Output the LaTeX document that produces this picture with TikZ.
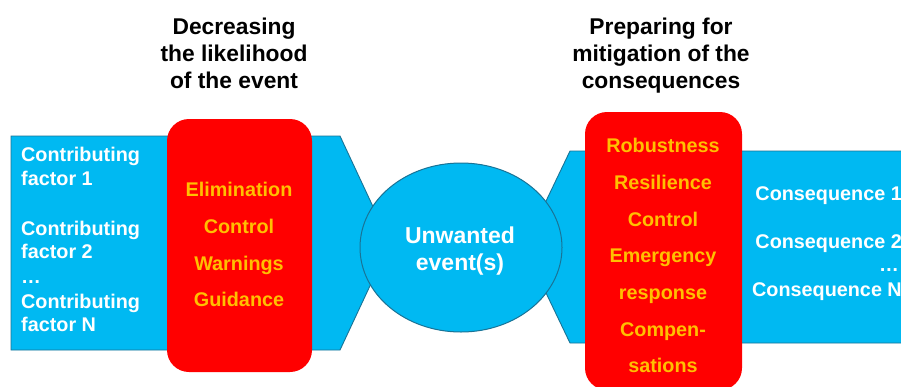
\documentclass[tikz,border=0pt]{standalone}
\usepackage{fontspec}
\setmainfont{Liberation Sans}
\definecolor{bluefill}{RGB}{0,185,242}
\definecolor{blueedge}{RGB}{25,115,150}
\definecolor{barred}{RGB}{255,0,0}
\definecolor{baryellow}{RGB}{255,192,0}
\begin{document}
\begin{tikzpicture}[x=1pt,y=-1pt,
  bluebody/.style={fill=bluefill, draw=blueedge, line width=0.9pt, line join=miter},
  barrier/.style={fill=barred, rounded corners=22pt},
  wtext/.style={text=white, font=\fontsize{19.8}{24}\selectfont\bfseries, inner sep=0pt},
  etext/.style={text=white, font=\fontsize{23}{27}\selectfont\bfseries, anchor=base, inner sep=0pt},
  ytext/.style={text=baryellow, font=\fontsize{19.8}{24}\selectfont\bfseries, anchor=base, inner sep=0pt},
  titletext/.style={text=black, font=\fontsize{22.8}{27}\selectfont\bfseries, anchor=base, inner sep=0pt}]
\useasboundingbox (0,0) rectangle (901,386);
\fill[white] (0,0) rectangle (901,386);
\clip (0,0) rectangle (901,386);

% titles
\node[titletext] (tl1) at (234,34) {Decreasing};
\node[titletext] (tl2) at (234,61.5) {the likelihood};
\node[titletext] (tl3) at (234,88.5) {of the event};
\node[titletext] (tr1) at (661,34) {Preparing for};
\node[titletext] (tr2) at (661,61.5) {mitigation of the};
\node[titletext] (tr3) at (661,88.5) {consequences};

% blue bodies
\path[bluebody] (11,136) -- (340,136) -- (390,243) -- (340,350) -- (11,350) -- cycle;
\path[bluebody] (920,151) -- (570,151) -- (524,247) -- (570,343) -- (920,343) -- cycle;

% unwanted event
\path[fill=bluefill, draw=blueedge, line width=1pt] (461,247.5) ellipse [x radius=101, y radius=84.5];

% barriers
\path[barrier] (167,119) rectangle (312,372);
\path[barrier] (585,112) rectangle (742,390);

% left texts
\node[wtext, anchor=base west] (c1a) at (21,161.7) {Contributing};
\node[wtext, anchor=base west] (c1b) at (21,185) {factor 1};
\node[wtext, anchor=base west] (c2a) at (21,235) {Contributing};
\node[wtext, anchor=base west] (c2b) at (21,258) {factor 2};
\node[wtext, anchor=base west] (cdots) at (21,283) {…};
\node[wtext, anchor=base west] (cNa) at (21,308) {Contributing};
\node[wtext, anchor=base west] (cNb) at (21,331.7) {factor N};

% left barrier texts
\node[ytext] (b1) at (239,196.7) {Elimination};
\node[ytext] (b2) at (239,233.3) {Control};
\node[ytext] (b3) at (239,270) {Warnings};
\node[ytext] (b4) at (239,306.7) {Guidance};

% event text
\node[etext] (e1) at (460,243) {Unwanted};
\node[etext] (e2) at (460,270) {event(s)};

% right barrier texts
\node[ytext] (m1) at (663,152.3) {Robustness};
\node[ytext] (m2) at (663,189) {Resilience};
\node[ytext] (m3) at (663,226) {Control};
\node[ytext] (m4) at (663,262.7) {Emergency};
\node[ytext] (m5) at (663,299.3) {response};
\node[ytext] (m6) at (663,336) {Compen-};
\node[ytext] (m7) at (663,372.7) {sations};

% consequences
\node[wtext, anchor=base east] (q1) at (902,200) {Consequence 1};
\node[wtext, anchor=base east] (q2) at (902,248.3) {Consequence 2};
\node[wtext, anchor=base east] (qdots) at (899,271.7) {…};
\node[wtext, anchor=base east] (qN) at (902,296.7) {Consequence N};
\end{tikzpicture}
\end{document}
